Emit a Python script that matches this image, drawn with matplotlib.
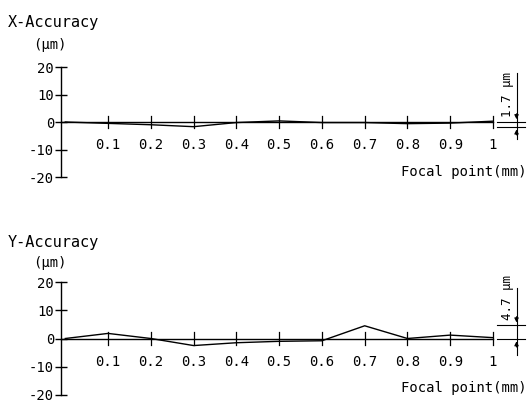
import matplotlib
matplotlib.use("Agg")
import matplotlib.pyplot as plt

focal = [0.0, 0.1, 0.2, 0.3, 0.4, 0.5, 0.6, 0.7, 0.8, 0.9, 1.0]
x_acc = [0.0, -0.5, -1.0, -1.7, -0.2, 0.4, -0.2, -0.2, -0.6, -0.4, 0.3]
y_acc = [0.0, 1.8, 0.0, -2.5, -1.5, -1.0, -0.8, 4.5, 0.0, 1.2, 0.3]
xtick_vals = [0.1, 0.2, 0.3, 0.4, 0.5, 0.6, 0.7, 0.8, 0.9, 1.0]
xtick_labels = ["0.1", "0.2", "0.3", "0.4", "0.5", "0.6", "0.7", "0.8", "0.9", "1"]
ytick_vals = [-20, -10, 0, 10, 20]
titles = ["X-Accuracy", "Y-Accuracy"]
spans = [1.7, 4.7]
span_lo = [-1.7, 0.0]
series = [x_acc, y_acc]

W, H = 529, 405
fig = plt.figure(figsize=(W / 100, H / 100), dpi=100)
FONT = "DejaVu Sans Mono"

# axes pixel boxes: (left, right, top(y=20), bottom(y=-20))
boxes = [(61, 493, 67, 177), (61, 493, 282, 395)]
title_y = [22, 242]
unit_y = [45, 263]
focal_y = [172, 388]


def fx(px):
    return px / W


def fy(py):
    return 1 - py / H


for i, (l, r, t, b) in enumerate(boxes):
    ax = fig.add_axes([l / W, 1 - b / H, (r - l) / W, (b - t) / H])
    ax.set_xlim(-0.01, 1.0)
    ax.set_ylim(-20, 20)
    for s in ["top", "right", "bottom"]:
        ax.spines[s].set_visible(False)
    ax.spines["left"].set_linewidth(1.0)
    ax.axhline(0, color="black", lw=1.0, clip_on=False)
    ax.set_xticks([])
    ax.set_yticks(ytick_vals)
    ax.set_yticklabels([str(v) for v in ytick_vals], fontfamily=FONT, fontsize=10)
    ax.tick_params(axis="y", direction="inout", length=8, width=1.0, pad=1)
    for xv in xtick_vals:
        ax.plot([xv, xv], [-2.2, 2.2], color="black", lw=0.9, clip_on=False)
    for xv, lab in zip(xtick_vals, xtick_labels):
        ax.text(xv, -8.3, lab, ha="center", va="center", fontfamily=FONT, fontsize=10)
    ax.plot(focal, series[i], color="black", lw=1.0, clip_on=False)
    fig.text(fx(8), fy(title_y[i]), titles[i], fontfamily=FONT, fontsize=11,
             ha="left", va="center")
    fig.text(fx(33), fy(unit_y[i]), "(μm)", fontfamily=FONT, fontsize=10,
             ha="left", va="center")
    fig.text(fx(527), fy(focal_y[i]), "Focal point(mm)", fontfamily=FONT,
             fontsize=10, ha="right", va="center")
    # dimension annotation on the right
    lo, hi = span_lo[i], span_lo[i] + spans[i]
    xa = 1.055
    ax.plot([1.01, 1.075], [lo, lo], color="black", lw=0.8, clip_on=False)
    ax.plot([1.01, 1.075], [hi, hi], color="black", lw=0.8, clip_on=False)
    ax.plot([xa, xa], [-6, 18], color="black", lw=0.8, clip_on=False)
    ax.annotate("", xy=(xa, hi), xytext=(xa, hi + 4), annotation_clip=False,
                arrowprops=dict(arrowstyle="-|>", color="black", lw=0.8, mutation_scale=6))
    ax.annotate("", xy=(xa, lo), xytext=(xa, lo - 4), annotation_clip=False,
                arrowprops=dict(arrowstyle="-|>", color="black", lw=0.8, mutation_scale=6))
    ax.text(1.033, hi + 2, f"{spans[i]} μm", rotation=90, ha="center", va="bottom",
            fontfamily=FONT, fontsize=9, clip_on=False)

fig.savefig("out.png", dpi=100)
